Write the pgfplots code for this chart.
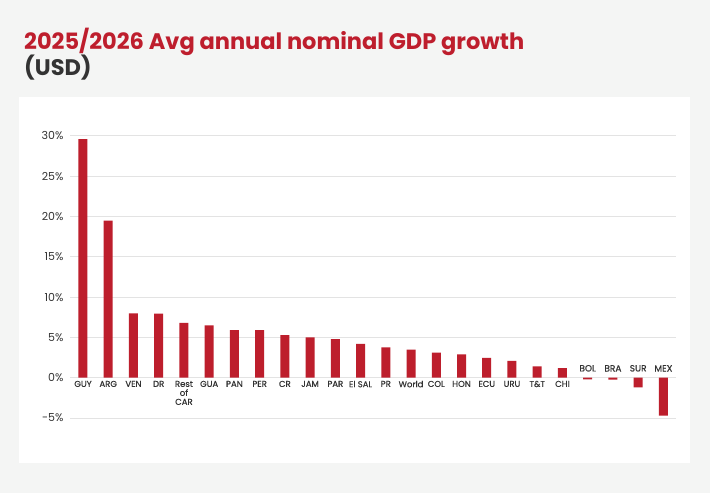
\documentclass[border=0pt]{standalone}
\usepackage{fontspec}
\setmainfont{Poppins}
\newfontfamily\labfont{Poppins}[FakeBold=0.5]
\usepackage{pgfplots}
\pgfplotsset{compat=1.18}
\definecolor{bg}{HTML}{F4F5F4}
\definecolor{barred}{HTML}{BD1E2C}
\definecolor{titlered}{HTML}{BE1E2D}
\definecolor{txt}{HTML}{333333}
\definecolor{gridc}{HTML}{E3E3E3}
\begin{document}
\begin{tikzpicture}
\fill[bg] (0pt,0pt) rectangle (710pt,493pt);
\fill[white] (19pt,30pt) rectangle (690pt,396pt);
\node[anchor=base west, text=titlered, font=\fontsize{22.5}{26}\selectfont\bfseries, inner sep=0] at (24pt,443pt) {2025/2026 Avg annual nominal GDP growth};
\node[anchor=base west, text=txt, font=\fontsize{22.5}{26}\selectfont\bfseries, inner sep=0] at (24pt,417pt) {(USD)};
\begin{axis}[
    at={(70pt,75pt)}, anchor=south west,
    scale only axis, width=606pt, height=282pt,
    xmin=-0.515, xmax=23.5,
    ymin=-5, ymax=30,
    ytick={-5,0,5,10,15,20,25,30},
    yticklabel={\pgfmathprintnumber{\tick}\%},
    xtick=\empty,
    axis line style={draw=none},
    major tick length=0pt,
    ymajorgrids, grid style={gridc, line width=1pt},
    yticklabel style={font=\fontsize{11}{12}\selectfont, text=txt, xshift=-3pt},
    /pgf/number format/assume math mode=true,
    clip=false,
]
\addplot[ybar, bar width=9pt, fill=barred, draw=none] coordinates {
    (0,29.6) (1,19.5) (2,8.0) (3,7.95) (4,6.8) (5,6.5) (6,5.9) (7,5.9)
    (8,5.3) (9,5.0) (10,4.8) (11,4.2) (12,3.75) (13,3.5) (14,3.1) (15,2.9)
    (16,2.45) (17,2.1) (18,1.4) (19,1.2) (20,-0.2) (21,-0.25) (22,-1.2) (23,-4.7)
};
\addplot[draw=none, mark=none, nodes near coords, point meta=explicit symbolic,
    nodes near coords style={anchor=north, yshift=-2pt, align=center,
      font=\labfont\fontsize{8.5}{9}\selectfont, text=txt, inner sep=1pt}] coordinates {
    (0,0) [GUY] (1,0) [ARG] (2,0) [VEN] (3,0) [DR] (4,0) [{Rest\\of\\CAR}]
    (5,0) [GUA] (6,0) [PAN] (7,0) [PER] (8,0) [CR] (9,0) [JAM] (10,0) [PAR]
    (11,0) [El SAL] (12,0) [PR] (13,0) [World] (14,0) [COL] (15,0) [HON]
    (16,0) [ECU] (17,0) [URU] (18,0) [T\&T] (19,0) [CHI]
};
\addplot[draw=none, mark=none, nodes near coords, point meta=explicit symbolic,
    nodes near coords style={anchor=south, yshift=5pt,
      font=\labfont\fontsize{9}{10}\selectfont, text=txt, inner sep=1pt}] coordinates {
    (20,0) [BOL] (21,0) [BRA] (22,0) [SUR] (23,0) [MEX]
};
\end{axis}
\end{tikzpicture}
\end{document}
